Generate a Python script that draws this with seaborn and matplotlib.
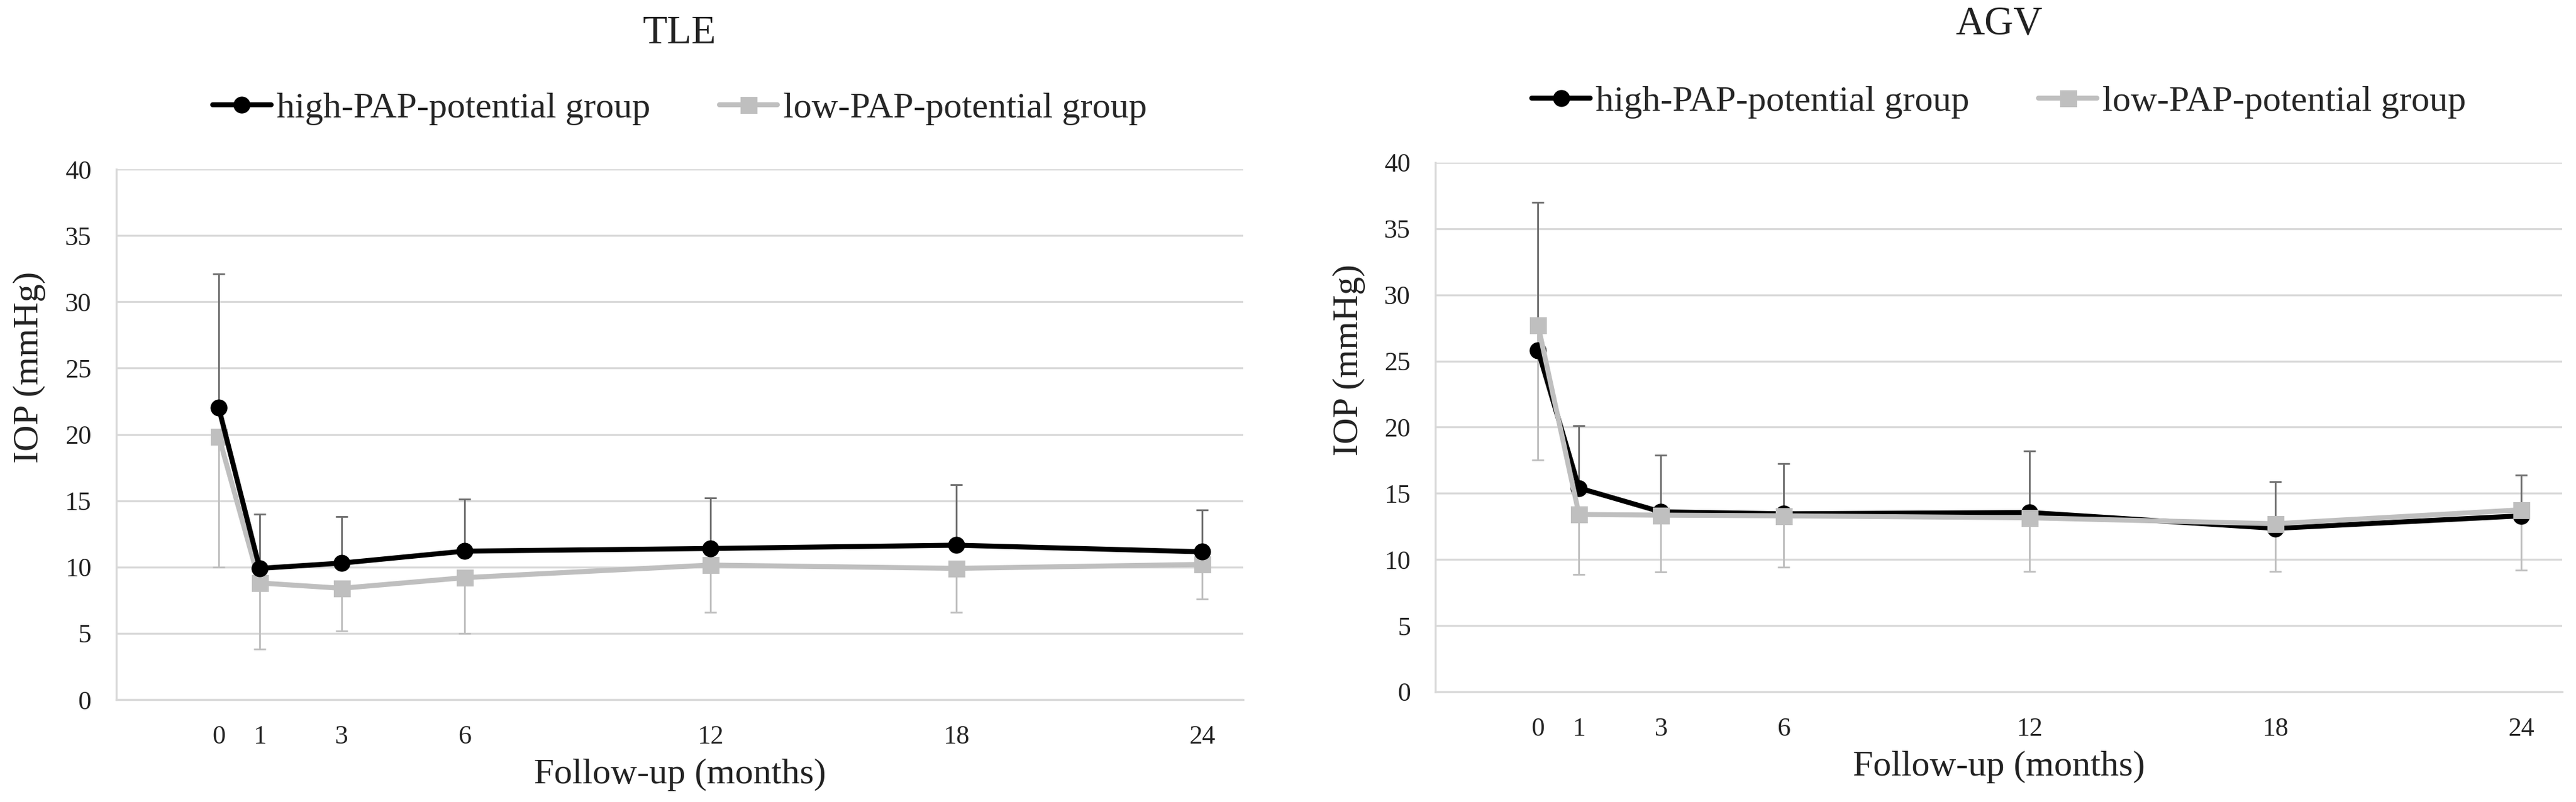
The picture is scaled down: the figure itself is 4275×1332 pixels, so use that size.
import numpy as np
import matplotlib
matplotlib.use("Agg")
import matplotlib.pyplot as plt
import seaborn as sns

# Data (IOP mean, one-sided SD bars)
months = [0, 1, 3, 6, 12, 18, 24]
panels = ["TLE", "AGV"]
series_names = ["high-PAP-potential group", "low-PAP-potential group"]

tle_high = [22.0, 9.9, 10.3, 11.2, 11.4, 11.65, 11.15]
tle_high_upper = [32.1, 14.0, 13.8, 15.1, 15.2, 16.2, 14.3]
tle_low = [19.85, 8.8, 8.4, 9.2, 10.15, 9.9, 10.2]
tle_low_lower = [10.0, 3.8, 5.2, 5.0, 6.6, 6.6, 7.6]

agv_high = [25.8, 15.4, 13.6, 13.45, 13.55, 12.35, 13.3]
agv_high_upper = [37.0, 20.1, 17.9, 17.25, 18.2, 15.9, 16.4]
agv_low = [27.7, 13.4, 13.35, 13.3, 13.15, 12.7, 13.75]
agv_low_lower = [17.5, 8.85, 9.05, 9.4, 9.1, 9.1, 9.2]

y_ticks = [0, 5, 10, 15, 20, 25, 30, 35, 40]

sns.set_theme(style="white")
plt.rcParams['font.family'] = ['Liberation Serif', 'DejaVu Serif']

black = "black"
grey = "#bfbfbf"
grid_col = "#d9d9d9"

fig = plt.figure(figsize=(14.25, 4.44), dpi=300)
ax_tle = fig.add_axes([0.04515, 0.1276, 0.4374, 0.6614])
ax_agv = fig.add_axes([0.5573, 0.1374, 0.4374, 0.6600])

setup = [
    (ax_tle, panels[0], tle_high, tle_high_upper, tle_low, tle_low_lower, (4, 3), 1.256),
    (ax_agv, panels[1], agv_high, agv_high_upper, agv_low, agv_low_lower, (3, 4), 1.26),
]

for ax, title, high, high_up, low, low_lo, z, title_y in setup:
    high = np.array(high)
    low = np.array(low)
    zeros = np.zeros(len(months))

    # error bars: upward for high group, downward for low group
    ax.errorbar(months, high, yerr=[zeros, np.array(high_up) - high], fmt='none',
                ecolor='#707070', elinewidth=0.7, capsize=2.4, capthick=0.7, zorder=2)
    ax.errorbar(months, low, yerr=[low - np.array(low_lo), zeros], fmt='none',
                ecolor=grey, elinewidth=0.7, capsize=2.4, capthick=0.7, zorder=2)

    sns.lineplot(x=months, y=high, ax=ax, color=black, linewidth=2.0, marker='o',
                 markersize=6, markeredgecolor=black, zorder=z[0])
    h_high = ax.lines[-1]
    sns.lineplot(x=months, y=low, ax=ax, color=grey, linewidth=2.0, marker='s',
                 markersize=6, markeredgecolor=grey, zorder=z[1])
    h_low = ax.lines[-1]

    ax.set_xlim(-2.5, 25)
    ax.set_ylim(0, 40)
    ax.set_xticks(months)
    ax.set_xticklabels([str(m) for m in months])
    ax.set_yticks(y_ticks)
    ax.tick_params(axis='both', length=0, labelsize=10.5, colors='#222222')
    ax.tick_params(axis='y', pad=10)
    ax.tick_params(axis='x', pad=10)

    ax.yaxis.grid(True, color=grid_col, linewidth=0.8)
    ax.xaxis.grid(False)
    ax.set_axisbelow(True)
    for side in ['top', 'right']:
        ax.spines[side].set_visible(False)
    for side in ['left', 'bottom']:
        ax.spines[side].set_color(grid_col)
        ax.spines[side].set_linewidth(0.8)

    ax.set_xlabel("Follow-up (months)", fontsize=14.5, color='#222222')
    ax.xaxis.set_label_coords(0.5, -0.142)
    ax.xaxis.label.set_va('center')
    ax.set_ylabel("IOP (mmHg)", fontsize=14.5, color='#222222')
    ax.yaxis.set_label_coords(-0.077, 0.627)
    ax.yaxis.label.set_va('center')

    ax.text(0.5, title_y, title, transform=ax.transAxes, ha='center', va='center',
            fontsize=16, color='#222222')

    ax.legend(handles=[h_high, h_low], labels=series_names, loc='center',
              bbox_to_anchor=(0.5, 1.114), ncol=2, frameon=False, fontsize=14.5,
              handlelength=1.6, handletextpad=0.15, columnspacing=1.9)

fig.savefig("out.png", dpi=300, facecolor='white')
